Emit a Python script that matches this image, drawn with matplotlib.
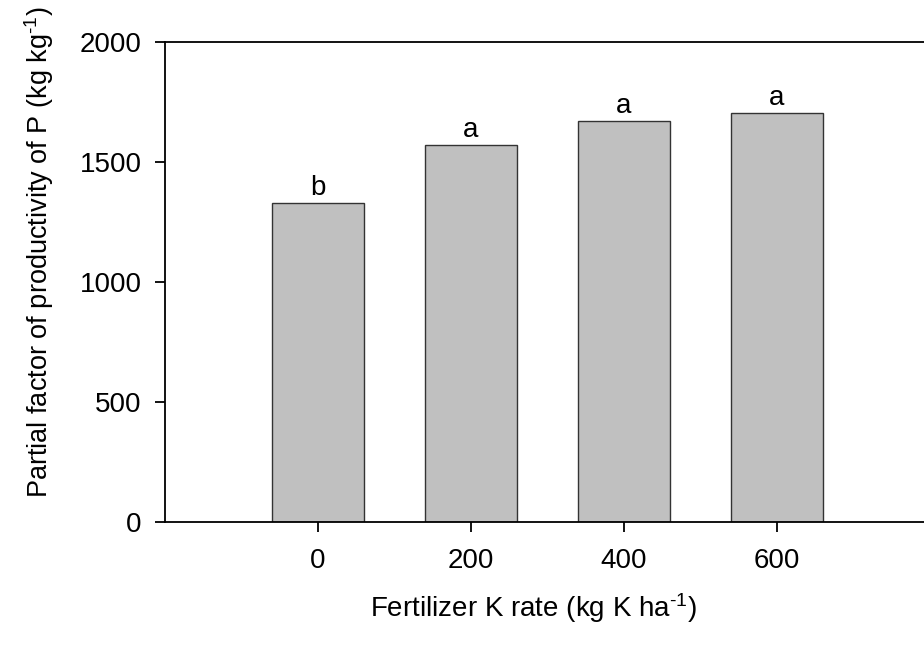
import matplotlib
matplotlib.use("Agg")
import matplotlib.pyplot as plt

# Data
k_rates = ["0", "200", "400", "600"]
pfp_values = [1328, 1570, 1670, 1703]
letters = ["b", "a", "a", "a"]

plt.rcParams["font.family"] = ["Liberation Sans", "DejaVu Sans"]
plt.rcParams["mathtext.fontset"] = "custom"
plt.rcParams["mathtext.rm"] = "Liberation Sans"
plt.rcParams["mathtext.it"] = "Liberation Sans"

fs = 20

fig = plt.figure(figsize=(9.24, 6.51), dpi=100)
# axes runs off the right edge, as in the reference
ax = fig.add_axes([165 / 924, 1 - 522 / 651, (930 - 165) / 924, 480 / 651])

pos = range(len(k_rates))
ax.bar(pos, pfp_values, width=0.6, color="#c0c0c0", edgecolor="#333333", linewidth=1.0)

# Significance letters above the bars
for x, v, t in zip(pos, pfp_values, letters):
    ax.text(x, v + 36, t, ha="center", va="baseline", fontsize=fs)

ax.set_xlim(-1, 4)
ax.set_ylim(0, 2000)
ax.set_xticks(list(pos))
ax.set_xticklabels(k_rates)
ax.set_yticks([0, 500, 1000, 1500, 2000])

ax.spines["right"].set_visible(False)
for s in ["left", "top", "bottom"]:
    ax.spines[s].set_linewidth(1.3)
ax.tick_params(direction="out", length=7, width=1.3, labelsize=fs)
ax.tick_params(axis="x", pad=12)
ax.tick_params(axis="y", pad=10)

ax.set_xlabel(r"Fertilizer K rate (kg K ha$^{\text{-1}}$)", fontsize=fs)
ax.set_ylabel(r"Partial factor of productivity of P (kg kg$^{\text{-1}}$)", fontsize=19.5)
ax.xaxis.set_label_coords(0.482, -0.18)
ax.xaxis.label.set_va("center")
ax.yaxis.set_label_coords(-0.165, 0.562)
ax.yaxis.label.set_va("center")

fig.savefig("out.png", dpi=100)
